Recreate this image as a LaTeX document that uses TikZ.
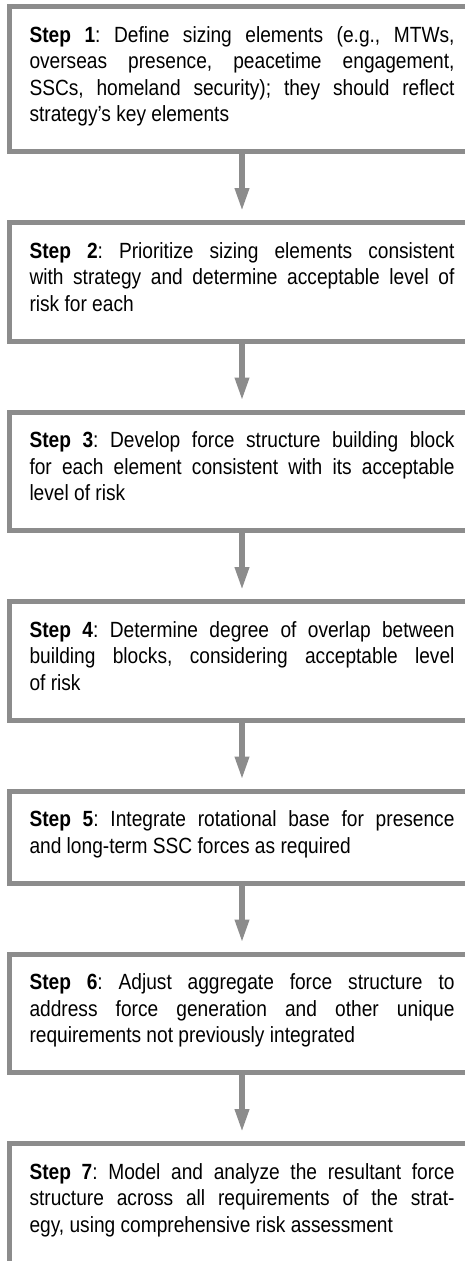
\documentclass[tikz,border=0pt]{standalone}
\usepackage{fontspec}
\setmainfont[FakeStretch=0.87]{Liberation Sans}
\usetikzlibrary{positioning,arrows.meta}
\definecolor{boxgray}{RGB}{140,140,140}
\newcommand{\stepfont}{\fontsize{22pt}{26.5pt}\selectfont\frenchspacing\tolerance=10000\hbadness=10000}
\newcommand{\steplabel}[1]{\rule{0pt}{21.55pt}\textbf{Step #1}:}
\newcommand{\laststrut}[1][15.95pt]{\rule[-#1]{0pt}{#1}}
\begin{document}
\begin{tikzpicture}[
    stepbox/.style={draw=boxgray,line width=5pt,text width=425pt,inner xsep=20pt,inner ysep=14pt,align=justify,font=\stepfont},
    flowarrow/.style={draw=boxgray,line width=6pt,-{Triangle[width=13pt,length=24pt]},shorten >=8pt},
    node distance=66pt]
  \useasboundingbox (0,0) rectangle (465pt,-1261pt);
  \clip (0,0) rectangle (465pt,-1261pt);
  % the seven steps
  \node[stepbox,anchor=north west] (s1) at (7pt,-4pt)
    {\steplabel{1} Define sizing elements (e.g., MTWs,\linebreak overseas presence, peacetime engagement,\linebreak SSCs, homeland security); they should reflect\linebreak strategy's key elements\laststrut};
  \node[stepbox,below=of s1] (s2)
    {\steplabel{2} Prioritize sizing elements consistent\linebreak with strategy and determine acceptable level of\linebreak risk for each\laststrut};
  \node[stepbox,below=of s2] (s3)
    {\steplabel{3} Develop force structure building block\linebreak for each element consistent with its acceptable\linebreak level of risk\laststrut};
  \node[stepbox,below=of s3] (s4)
    {\steplabel{4} Determine degree of overlap between\linebreak building blocks, considering acceptable level\linebreak of risk\laststrut};
  \node[stepbox,below=of s4] (s5)
    {\steplabel{5} Integrate rotational base for presence\linebreak and long-term SSC forces as required\laststrut};
  \node[stepbox,below=of s5] (s6)
    {\steplabel{6} Adjust aggregate force structure to\linebreak address force generation and other unique\linebreak requirements not previously integrated\laststrut};
  % last box runs off the bottom edge
  \node[stepbox,below=of s6] (s7)
    {\steplabel{7} Model and analyze the resultant force\linebreak structure across all requirements of the strat-\linebreak egy, using comprehensive risk assessment\laststrut[30pt]};
  % arrows between steps
  \foreach \from/\to in {s1/s2,s2/s3,s3/s4,s4/s5,s5/s6,s6/s7}
    \draw[flowarrow] (\from) -- (\to);
\end{tikzpicture}
\end{document}
